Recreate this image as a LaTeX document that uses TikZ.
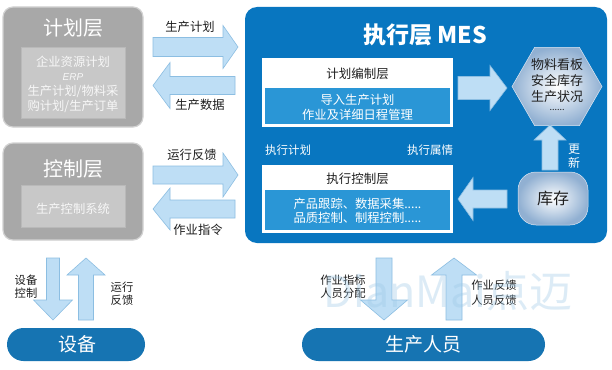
\documentclass[tikz,border=0pt]{standalone}
\usepackage{fontspec}
\setmainfont{Noto Sans CJK SC}
\newfontfamily\lsans{Liberation Sans}
\newcommand\myfs[1]{\fontsize{#1}{#1}\selectfont}
\definecolor{mes}{RGB}{8,118,192}
\definecolor{band}{RGB}{42,150,214}
\definecolor{pill}{RGB}{22,116,178}
\definecolor{arrfill}{RGB}{190,222,245}
\definecolor{arrdraw}{RGB}{140,190,226}
\definecolor{gout}{RGB}{168,168,168}
\definecolor{gin}{RGB}{200,200,200}
\definecolor{txt}{RGB}{30,30,30}
\definecolor{hexout}{RGB}{145,176,210}
% horizontal block arrow: tail x, head-base x, tip x, center y, shaft half, head half
\newcommand\harrow[6]{%
  \draw[bigarrow] ({#1},{#4-#5}) -- ({#2},{#4-#5}) -- ({#2},{#4-#6}) -- ({#3},{#4})
    -- ({#2},{#4+#6}) -- ({#2},{#4+#5}) -- ({#1},{#4+#5}) -- cycle;}
% vertical block arrow: tail y, head-base y, tip y, center x, shaft half, head half
\newcommand\varrow[6]{%
  \draw[bigarrow] ({#4-#5},{#1}) -- ({#4-#5},{#2}) -- ({#4-#6},{#2}) -- ({#4},{#3})
    -- ({#4+#6},{#2}) -- ({#4+#5},{#2}) -- ({#4+#5},{#1}) -- cycle;}
\begin{document}
\begin{tikzpicture}[x=1pt,y=-1pt,
  every node/.style={inner sep=0pt,outer sep=0pt},
  bigarrow/.style={fill=arrfill,draw=arrdraw,line width=0.6pt,line join=miter},
  graybox/.style={fill=gout,draw=gray!35,line width=1.2pt,rounded corners=10pt,minimum width=140pt},
  grayinner/.style={fill=gin,draw=gray!55,line width=0.8pt,minimum width=104pt},
  graytitle/.style={text=white,font=\myfs{20}},
  graytext/.style={text=white!94!gray,font=\myfs{12.3}},
  lbl/.style={text=txt,font=\myfs{12.3}},
  small/.style={text=txt,font=\myfs{11.3}},
  whitebox/.style={fill=white,minimum width=191pt},
  bandbox/.style={fill=band,minimum width=185pt},
  boxtitle/.style={text=txt,font=\myfs{12.5}},
  bandtext/.style={text=white,font=\myfs{12.3}},
  pillbox/.style={fill=pill,rounded corners=16.5pt,minimum height=33pt},
  pilltext/.style={text=white,font=\myfs{19}},
  hextext/.style={text=txt,font=\myfs{13}}
]
\useasboundingbox (0,0) rectangle (612,369);
\fill[white] (0,0) rectangle (612,369);

% ---------- planning layer ----------
\node[graybox,minimum height=120pt] (plan) at (73,67) {};
\node[graytitle] (plant) at (73,28) {计划层};
\node[grayinner,minimum height=71pt] (plani) at (73,82.5) {};
\node[graytext] (pl1) at (73,62) {企业资源计划};
\node[graytext,font=\lsans\itshape\myfs{10}] (pl2) at (73,77) {ERP};
\node[graytext] (pl3) at (73,91.5) {生产计划/物料采};
\node[graytext] (pl4) at (73,106) {购计划/生产订单};

% ---------- control layer ----------
\node[graybox,minimum height=97pt] (ctrl) at (73,191.5) {};
\node[graytitle] (ctrlt) at (73,169) {控制层};
\node[grayinner,minimum height=42pt] (ctrli) at (73,206) {};
\node[graytext] (ct1) at (73,209) {生产控制系统};

% ---------- MES ----------
\node[fill=mes,rounded corners=12pt,minimum width=362pt,minimum height=236pt] (mes) at (426,125) {};
\node[text=white,font=\bfseries\myfs{23}] (mest) at (425,35) {执行层 MES};

\node[whitebox,minimum height=69pt] (plbox) at (357.5,92.5) {};
\node[boxtitle] (plboxt) at (357.5,74) {计划编制层};
\node[bandbox,minimum height=36pt] (plband) at (357.5,106) {};
\node[bandtext] (pb1) at (357.5,99.5) {导入生产计划};
\node[bandtext] (pb2) at (357.5,115) {作业及详细日程管理};

\node[whitebox,minimum height=68pt] (exbox) at (357.5,199) {};
\node[boxtitle] (exboxt) at (357.5,179) {执行控制层};
\node[bandbox,minimum height=40pt] (exband) at (357.5,210) {};
\node[bandtext] (eb1) at (357.5,204) {产品跟踪、数据采集.....};
\node[bandtext] (eb2) at (357.5,217.5) {品质控制、制程控制.....};

\node[text=white,font=\myfs{11.5}] (exec1) at (288,150) {执行计划};
\node[text=white,font=\myfs{11.5}] (exec2) at (430,150) {执行属情};

% hexagon
\shade[inner color=white,outer color=hexout,draw=white!70!hexout,line width=0.5pt]
  (512,86.5) -- (534.5,47.5) -- (579.5,47.5) -- (602,86.5) -- (579.5,125.5) -- (534.5,125.5) -- cycle;
\node[hextext] (hx1) at (557,65) {物料看板};
\node[hextext] (hx2) at (557,81) {安全库存};
\node[hextext] (hx3) at (557,97) {生产状况};
\node[hextext,font=\myfs{9}] (hx4) at (557,110) {......};

% stock
\node[inner color=white,outer color=hexout,rounded corners=18pt,minimum width=70pt,minimum height=53pt,draw=white!70!hexout,line width=0.5pt] (stock) at (553,198.5) {};
\node[text=txt,font=\myfs{16}] (stockt) at (553,198.5) {库存};

\node[text=white,font=\myfs{12}] (upd1) at (574,149) {更};
\node[text=white,font=\myfs{12}] (upd2) at (574,163) {新};

% MES internal arrows
\harrow{458}{490}{507}{88}{11.5}{22.5}
\harrow{507}{473}{458}{199}{9}{21.5}
\varrow{170}{140}{125}{550}{8}{16}

% ---------- left arrows ----------
\harrow{153}{223}{238}{47}{9.5}{21.5}
\harrow{235}{170}{153}{85.5}{9}{23}
\harrow{153}{223}{238}{175}{9}{22}
\harrow{235}{170}{153}{209}{9}{21}
\node[lbl] (a1) at (190,27) {生产计划};
\node[lbl] (a2) at (200,105) {生产数据};
\node[lbl] (a3) at (192,155) {运行反馈};
\node[lbl] (a4) at (198,230) {作业指令};

% ---------- bottom ----------
\node[pillbox,minimum width=138pt] (dev) at (76,344.5) {};
\node[pilltext] (devt) at (77,344.5) {设备};
\node[pillbox,minimum width=243pt] (staff) at (423.5,344.5) {};
\node[pilltext] (stafft) at (423,344.5) {生产人员};

\varrow{258}{300}{320}{53}{6.5}{19.5}
\varrow{320}{275}{258}{86}{7.5}{19}
\varrow{258}{300}{320}{384}{8}{23.5}
\varrow{320}{275}{258}{454}{8}{22.5}

\node[small] (b1) at (26,280) {设备};
\node[small] (b2) at (26,293.5) {控制};
\node[small] (b3) at (122,287) {运行};
\node[small] (b4) at (122,300.5) {反馈};
\node[small] (b5) at (343,280) {作业指标};
\node[small] (b6) at (343,293.5) {人员分配};
\node[small] (b7) at (494,285) {作业反馈};
\node[small] (b8) at (494,300) {人员反馈};

% watermark
\node[text=mes!40,opacity=0.35,font=\myfs{43}] (wm) at (448,291) {DianMai点迈};
\end{tikzpicture}
\end{document}
